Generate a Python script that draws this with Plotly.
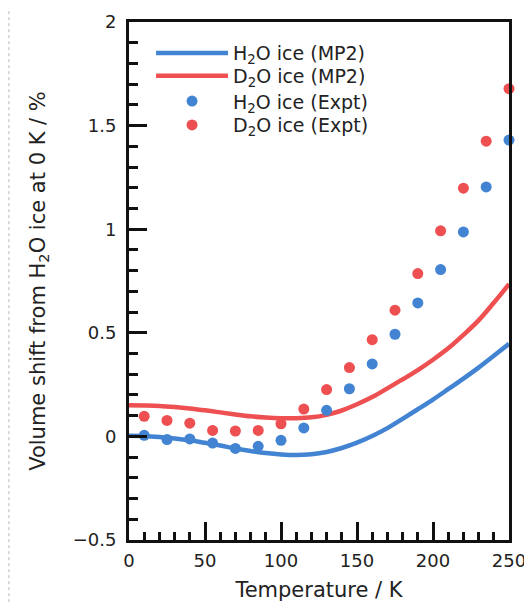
import plotly.graph_objects as go

# Experimental points (temperature in K, volume shift in %)
T_EXPT = [10, 25, 40, 55, 70, 85, 100, 115, 130, 145, 160, 175, 190, 205, 220, 235, 250]
H2O_EXPT = [0.005, -0.015, -0.012, -0.032, -0.058, -0.048, -0.019, 0.041, 0.126,
            0.230, 0.350, 0.493, 0.644, 0.805, 0.987, 1.204, 1.430]
D2O_EXPT = [0.097, 0.077, 0.064, 0.029, 0.026, 0.029, 0.061, 0.132, 0.226,
            0.332, 0.467, 0.609, 0.786, 0.992, 1.198, 1.425, 1.678]

T_MP2 = [0, 10, 20, 30, 40, 50, 60, 70, 80, 90, 100, 110, 120, 130, 140, 150,
         160, 170, 180, 190, 200, 210, 220, 230, 240, 250]
H2O_MP2 = [0.003, 0.002, -0.003, -0.010, -0.019, -0.031, -0.044, -0.058, -0.070,
           -0.080, -0.087, -0.090, -0.086, -0.075, -0.056, -0.030, 0.002, 0.040,
           0.085, 0.131, 0.178, 0.228, 0.279, 0.332, 0.389, 0.447]
D2O_MP2 = [0.150, 0.149, 0.147, 0.142, 0.135, 0.126, 0.116, 0.106, 0.097, 0.091,
           0.088, 0.088, 0.092, 0.104, 0.125, 0.155, 0.190, 0.232, 0.275, 0.320,
           0.370, 0.425, 0.490, 0.560, 0.645, 0.735]

BLUE = '#4284d2'
RED = '#ee4f50'
TXT = '#222222'
FONT = 'DejaVu Sans, Arial, Helvetica, sans-serif'

fig = go.Figure()

fig.add_trace(go.Scatter(x=T_MP2, y=H2O_MP2, mode='lines', line=dict(color=BLUE, width=4.5, shape='spline'),
                         name='H<sub>2</sub>O ice (MP2)', legend='legend'))
fig.add_trace(go.Scatter(x=T_MP2, y=D2O_MP2, mode='lines', line=dict(color=RED, width=4.5, shape='spline'),
                         name='D<sub>2</sub>O ice (MP2)', legend='legend2'))
fig.add_trace(go.Scatter(x=T_EXPT, y=H2O_EXPT, mode='markers', marker=dict(color=BLUE, size=11),
                         name='H<sub>2</sub>O ice (Expt)', cliponaxis=False, legend='legend3'))
fig.add_trace(go.Scatter(x=T_EXPT, y=D2O_EXPT, mode='markers', marker=dict(color=RED, size=11),
                         name='D<sub>2</sub>O ice (Expt)', cliponaxis=False, legend='legend4'))

# faint dashed page edge on the far left
fig.add_shape(type='line', xref='paper', yref='paper', x0=-0.316, x1=-0.316, y0=-0.12, y1=1.027,
              line=dict(color='#b8b8b8', width=1, dash='dot'))

axis_common = dict(
    showgrid=False, zeroline=False, automargin=False,
    showline=True, linecolor='#111111', linewidth=3, mirror=True,
    ticks='inside', ticklen=18, tickwidth=2.5, tickcolor='#111111',
    tickfont=dict(size=18, color=TXT, family=FONT),
)


def legend_row(y):
    # one legend box per row so the rows sit as tight as in the original
    return dict(x=0.058, y=y, xanchor='left', yanchor='middle', bgcolor='rgba(0,0,0,0)',
                font=dict(size=19, color=TXT), itemwidth=72)


# the page body adds 8 px on the left and top, so the figure is made smaller
fig.update_layout(
    width=524, height=594,
    margin=dict(l=121, r=23, t=14, b=62),
    paper_bgcolor='white', plot_bgcolor='white',
    font=dict(family=FONT, color=TXT, size=18),
    showlegend=True,
    legend=legend_row(0.940),
    legend2=legend_row(0.896),
    legend3=legend_row(0.847),
    legend4=legend_row(0.801),
    xaxis=dict(range=[0, 250], dtick=50, tick0=0, ticklabelstandoff=2,
               minor=dict(ticks='inside', ticklen=8, tickwidth=2.5, tickcolor='#111111', dtick=10, tick0=0),
               title=dict(text='Temperature / K', font=dict(size=21, color=TXT), standoff=15),
               **axis_common),
    yaxis=dict(range=[-0.5, 2], dtick=0.5, tick0=0, ticklabelstandoff=6,
               minor=dict(ticks='inside', ticklen=9, tickwidth=2.5, tickcolor='#111111', dtick=0.1, tick0=0),
               title=dict(text='Volume shift from H<sub>2</sub>O ice at 0 K / %', font=dict(size=21, color=TXT),
                          standoff=22),
               **axis_common),
)

fig.write_html("out.html")
